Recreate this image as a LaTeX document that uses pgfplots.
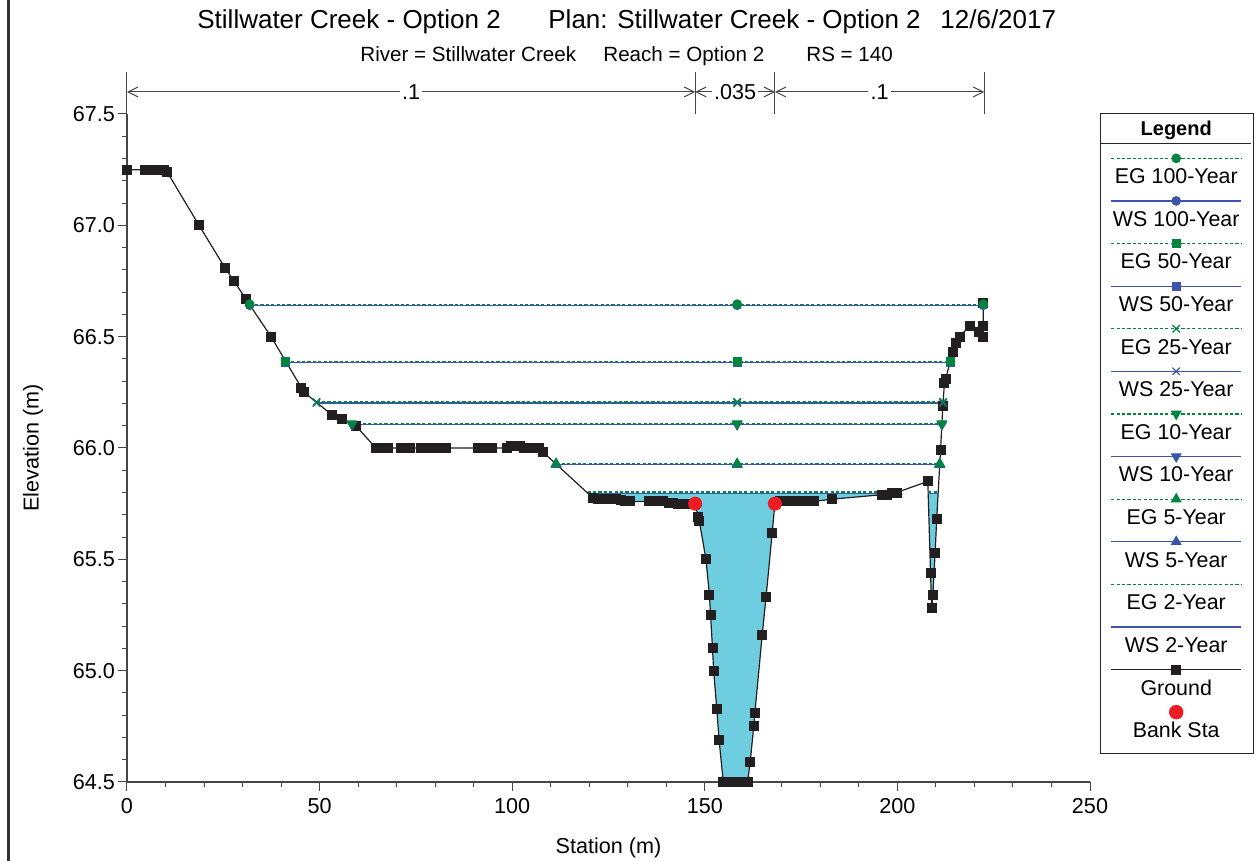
\documentclass[border=0pt]{standalone}
\usepackage{fontspec}
\setmainfont{Liberation Sans}
\usepackage{pgfplots}
\pgfplotsset{compat=1.18}
\usetikzlibrary{arrows.meta}

\definecolor{egcol}{RGB}{0,133,62}
\definecolor{wscol}{RGB}{60,84,170}
\definecolor{gndcol}{RGB}{35,31,32}
\definecolor{bankcol}{RGB}{237,28,36}
\definecolor{watercol}{RGB}{110,205,222}
\definecolor{axcol}{RGB}{70,70,70}

\tikzset{
  egline/.style={draw=egcol, line width=0.6pt, dash pattern=on 1.6pt off 1.1pt,
                 mark options={solid, fill=egcol, draw=egcol}},
  wsline/.style={draw=wscol, line width=0.6pt,
                 mark options={solid, fill=wscol, draw=wscol}},
  egdown/.style={egline, mark=triangle*, mark size=2.6pt,
                 mark options={solid, fill=egcol, draw=egcol, rotate=180}},
  wsdown/.style={wsline, mark=triangle*, mark size=2.6pt,
                 mark options={solid, fill=wscol, draw=wscol, rotate=180}},
  gndline/.style={draw=gndcol, line width=0.6pt, mark=square*, mark size=2.2pt,
                  mark options={solid, fill=gndcol, draw=gndcol}},
  nval/.style={draw=axcol, line width=0.5pt,
               {Straight Barb[length=5pt,width=5pt]}-{Straight Barb[length=5pt,width=5pt]}},
}

% legend sample: a line with one mark in the middle, drawn in the plot's own style
\pgfplotsset{
  legsample/.style={legend image code/.code={%
      \path[draw=none, fill=none] (0,-5.325pt) rectangle (0,5.325pt);
      \draw[mark repeat=2,mark phase=2] plot coordinates {(-32.5pt,-1.75pt) (0pt,-1.75pt) (32.5pt,-1.75pt)};}},
  legdot/.style={legend image code/.code={%
      \path[draw=none, fill=none] (0,-5.325pt) rectangle (0,5.325pt);
      \fill[bankcol] (0pt,-1.75pt) circle[radius=3.3pt];}},
}
\newcommand{\legline}[1]{\addlegendimage{#1, legsample}\addlegendentry{}}
\newcommand{\legtext}[1]{%
  \addlegendimage{legend image code/.code={%
      \node[anchor=center,inner sep=0pt,minimum height=10.65pt,draw=none,fill=none] at (0,0) {#1};}}%
  \addlegendentry{}}

\begin{document}
\begin{tikzpicture}
\path[use as bounding box] (-63.5pt,-39.5pt) rectangle (566.5pt,391pt);

\begin{axis}[
  at={(0,0)}, anchor=south west,
  scale only axis, width=481.5pt, height=334pt,
  xmin=0, xmax=250, ymin=64.5, ymax=67.5,
  clip=false,
  axis x line*=bottom, axis y line*=left,
  axis line style={draw=axcol, line width=0.6pt},
  xtick={0,50,...,250}, minor x tick num=4,
  ytick={64.5,65,...,67.5}, minor y tick num=4,
  tick align=outside,
  major tick length=4.5pt, minor tick length=2.5pt,
  tick style={draw=axcol, line width=0.5pt},
  /pgf/number format/assume math mode=true,
  tick label style={font=\fontsize{10.8}{13}\selectfont},
  yticklabel style={/pgf/number format/.cd, fixed, fixed zerofill, precision=1, /tikz/.cd, xshift=2pt},
  xticklabel style={/pgf/number format/.cd, fixed, precision=0},
  xlabel={Station (m)}, ylabel={Elevation (m)},
  label style={font=\fontsize{10.8}{13}\selectfont},
  xlabel style={at={(axis description cs:0.5,-0.0988)}, anchor=center},
  ylabel style={at={(axis description cs:-0.0976,0.5)}, anchor=center},
  legend style={
    at={(1.0104,1.0015)}, anchor=north west,
    draw=black!85, line width=0.6pt, fill=white,
    inner sep=0pt, row sep=0pt, column sep=0pt,
    font=\fontsize{10.7}{12.5}\selectfont,
    nodes={inner sep=0pt, text depth=0pt},
  },
]

% water below the 2-year surface
\addplot[fill=watercol, draw=none, forget plot] coordinates {
  (119.6,65.798)(121.0,65.775)(122.3,65.77)(123.6,65.77)(124.9,65.77)(127.0,65.77)
  (128.2,65.765)(129.3,65.76)(130.5,65.76)(135.4,65.76)(136.6,65.76)(137.8,65.76)
  (139.1,65.76)(140.6,65.755)(141.8,65.755)(143.0,65.75)(144.2,65.75)(145.4,65.75)
  (146.5,65.75)(147.5,65.75)(148.3,65.69)(148.6,65.67)(150.3,65.50)(151.2,65.34)
  (151.5,65.25)(152.0,65.10)(152.3,65.00)(153.1,64.83)(153.7,64.69)(154.8,64.50)
  (161.1,64.50)(161.8,64.59)(162.7,64.75)(163.0,64.81)(164.9,65.16)(165.9,65.33)
  (167.5,65.62)(168.2,65.75)(169.5,65.76)(178.3,65.76)(182.9,65.77)(195.9,65.79)
  (197.3,65.79)(198.3,65.798)} -- cycle;
\addplot[fill=watercol, draw=none, forget plot] coordinates {
  (207.99,65.798)(208.6,65.44)(208.9,65.28)(209.2,65.34)(209.8,65.53)(210.2,65.68)
  (210.58,65.798)} -- cycle;

% ground profile
\addplot[gndline, forget plot] coordinates {
  (0,67.25)(4.7,67.25)(5.7,67.25)(6.6,67.25)(7.5,67.25)(8.5,67.25)(9.5,67.25)(10.4,67.24)
  (18.7,67.0)(25.4,66.81)(27.8,66.75)(30.8,66.67)(37.4,66.5)(45.3,66.27)(46.0,66.25)
  (53.1,66.15)(55.7,66.13)(59.4,66.10)(64.6,66.0)(65.4,66.0)(66.2,66.0)(67.0,66.0)
  (67.8,66.0)(71.1,66.0)(73.5,66.0)(76.3,66.0)(77.5,66.0)(78.7,66.0)(80.0,66.0)
  (81.5,66.0)(82.8,66.0)(91.1,66.0)(92.7,66.0)(94.8,66.0)(98.6,66.0)(99.7,66.01)
  (100.9,66.01)(102.0,66.01)(103.1,66.0)(104.4,66.0)(105.7,66.0)(107.0,66.0)(108.1,65.98)
  (121.0,65.775)(122.3,65.77)(123.6,65.77)(124.9,65.77)(127.0,65.77)(128.2,65.765)
  (129.3,65.76)(130.5,65.76)(135.4,65.76)(136.6,65.76)(137.8,65.76)(139.1,65.76)
  (140.6,65.755)(141.8,65.755)(143.0,65.75)(144.2,65.75)(145.4,65.75)(146.5,65.75)
  (147.5,65.75)(148.3,65.69)(148.6,65.67)(150.3,65.50)(151.2,65.34)(151.5,65.25)
  (152.0,65.10)(152.3,65.00)(153.1,64.83)(153.7,64.69)(154.8,64.50)(155.6,64.50)
  (156.4,64.50)(157.2,64.50)(158.0,64.50)(158.8,64.50)(161.1,64.50)(161.8,64.59)
  (162.7,64.75)(163.0,64.81)(164.9,65.16)(165.9,65.33)(167.5,65.62)(168.2,65.75)
  (169.5,65.76)(170.7,65.76)(172.0,65.76)(173.2,65.76)(174.5,65.76)(175.7,65.76)
  (177.0,65.76)(178.3,65.76)(182.9,65.77)(195.9,65.79)(197.3,65.79)(198.6,65.80)
  (199.8,65.80)(207.9,65.85)(208.6,65.44)(208.9,65.28)(209.2,65.34)(209.8,65.53)
  (210.2,65.68)(211.2,65.99)(211.8,66.19)(212.2,66.29)(212.5,66.31)(214.4,66.43)
  (215.1,66.47)(216.2,66.50)(218.8,66.55)(221.2,66.52)(222.3,66.50)(222.3,66.55)
  (222.3,66.65)};

% water surfaces (WS) and energy grades (EG)
\addplot[wsline, forget plot] coordinates {(119.6,65.797)(198.3,65.797)};
\addplot[wsline, forget plot] coordinates {(207.99,65.797)(210.58,65.797)};
\addplot[egline, forget plot] coordinates {(119.6,65.802)(198.5,65.802)};
\addplot[egline, forget plot] coordinates {(207.99,65.802)(210.58,65.802)};

\addplot[wsline, mark=triangle*, mark size=2.6pt, forget plot] coordinates {(111.4,65.925)(158.4,65.925)(211.0,65.925)};
\addplot[egline, mark=triangle*, mark size=2.6pt, forget plot] coordinates {(111.4,65.930)(158.4,65.930)(211.0,65.930)};

\addplot[wsdown, forget plot] coordinates {(58.4,66.105)(158.4,66.105)(211.55,66.105)};
\addplot[egdown, forget plot] coordinates {(58.4,66.110)(158.4,66.110)(211.55,66.110)};

\addplot[wsline, mark=x, mark size=2.6pt, forget plot] coordinates {(49.2,66.202)(158.4,66.202)(211.86,66.202)};
\addplot[egline, mark=x, mark size=2.6pt, forget plot] coordinates {(49.2,66.207)(158.4,66.207)(211.86,66.207)};

\addplot[wsline, mark=square*, mark size=2pt, forget plot] coordinates {(41.25,66.385)(158.4,66.385)(213.7,66.385)};
\addplot[egline, mark=square*, mark size=2pt, forget plot] coordinates {(41.25,66.390)(158.4,66.390)(213.7,66.390)};

\addplot[wsline, mark=*, mark size=2.1pt, forget plot] coordinates {(31.85,66.641)(158.4,66.641)(222.3,66.641)};
\addplot[egline, mark=*, mark size=2.1pt, forget plot] coordinates {(31.85,66.646)(158.4,66.646)(222.3,66.646)};

% bank stations
\addplot[only marks, mark=*, mark size=3.3pt, mark options={fill=bankcol, draw=bankcol}, forget plot]
  coordinates {(147.5,65.75)(168.2,65.75)};

% Manning's n regions along the top
\draw[axcol, line width=0.5pt] (axis cs:0,67.5) -- (axis cs:0,67.689);
\draw[axcol, line width=0.5pt] (axis cs:147.5,67.5) -- (axis cs:147.5,67.689);
\draw[axcol, line width=0.5pt] (axis cs:168.2,67.5) -- (axis cs:168.2,67.689);
\draw[axcol, line width=0.5pt] (axis cs:222.56,67.5) -- (axis cs:222.56,67.689);
\draw[nval] (axis cs:0,67.599) -- (axis cs:147.5,67.599);
\draw[nval] (axis cs:147.5,67.599) -- (axis cs:168.2,67.599);
\draw[nval] (axis cs:168.2,67.599) -- (axis cs:222.56,67.599);
\node[fill=white, inner sep=1.2pt, font=\fontsize{10.8}{13}\selectfont] at (axis cs:73.75,67.599) {.1};
\node[fill=white, inner sep=1.2pt, font=\fontsize{10.8}{13}\selectfont] at (axis cs:157.85,67.599) {.035};
\node[fill=white, inner sep=1.2pt, font=\fontsize{10.8}{13}\selectfont] at (axis cs:195.4,67.599) {.1};

% legend
\addlegendimage{legend image code/.code={%
    \node[anchor=center,inner sep=0pt,minimum height=15pt,font=\bfseries,draw=none,fill=none] at (0,0) {Legend};
    \draw[black!85, line width=0.6pt, solid] (-37.5pt,-7.5pt) -- (37.5pt,-7.5pt);}}
\addlegendentry{}
\legline{egline, mark=*, mark size=2.1pt}\legtext{EG 100-Year}
\legline{wsline, mark=*, mark size=2.1pt}\legtext{WS 100-Year}
\legline{egline, mark=square*, mark size=2pt}\legtext{EG 50-Year}
\legline{wsline, mark=square*, mark size=2pt}\legtext{WS 50-Year}
\legline{egline, mark=x, mark size=2.6pt}\legtext{EG 25-Year}
\legline{wsline, mark=x, mark size=2.6pt}\legtext{WS 25-Year}
\legline{egdown}\legtext{EG 10-Year}
\legline{wsdown}\legtext{WS 10-Year}
\legline{egline, mark=triangle*, mark size=2.6pt}\legtext{EG 5-Year}
\legline{wsline, mark=triangle*, mark size=2.6pt}\legtext{WS 5-Year}
\legline{egline}\legtext{EG 2-Year}
\legline{wsline}\legtext{WS 2-Year}
\legline{gndline}\legtext{Ground}
\addlegendimage{legdot}\addlegendentry{}
\legtext{Bank Sta}
\addlegendimage{legend image code/.code={\path[draw=none, fill=none] (0,0) rectangle (0,-6pt);}}
\addlegendentry{}
\end{axis}

% titles
\node[anchor=base west, inner sep=0pt, font=\fontsize{13}{15}\selectfont] at (35pt,376.5pt) {Stillwater Creek - Option 2};
\node[anchor=base west, inner sep=0pt, font=\fontsize{13}{15}\selectfont] at (210.5pt,376.5pt) {Plan: Stillwater Creek - Option 2};
\node[anchor=base west, inner sep=0pt, font=\fontsize{13}{15}\selectfont] at (406.5pt,376.5pt) {12/6/2017};
\node[anchor=base west, inner sep=0pt, font=\fontsize{10.3}{12}\selectfont] at (116.5pt,360pt) {River = Stillwater Creek};
\node[anchor=base west, inner sep=0pt, font=\fontsize{10.3}{12}\selectfont] at (238pt,360pt) {Reach = Option 2};
\node[anchor=base west, inner sep=0pt, font=\fontsize{10.3}{12}\selectfont] at (339.5pt,360pt) {RS = 140};

% frame edge on the left
\draw[black!80, line width=1.5pt] (-59.25pt,-39.5pt) -- (-59.25pt,391pt);
\end{tikzpicture}
\end{document}
